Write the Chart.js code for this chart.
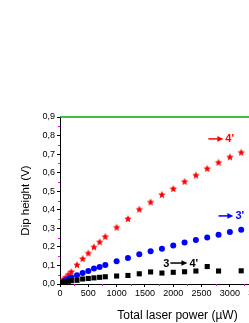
<!DOCTYPE html>
<html><head><meta charset="utf-8">
<script src="https://cdn.jsdelivr.net/npm/chart.js@4"></script>
<style>
html,body{margin:0;padding:0;overflow:hidden;background:#fff;width:249px;height:323px}
#wrap{position:absolute;left:0;top:0;width:320px;height:323px}
</style>
</head><body><div id="wrap"><canvas id="c" width="320" height="323"></canvas></div>
<script>
// ---- data (µW, V) ----
const powerRed   = [25,50,75,100,150,200,300,400,500,600,700,800,1000,1200,1400,1600,1800,2000,2200,2400,2600,2800,3000,3200];
const dipRed     = [0.009,0.017,0.025,0.034,0.050,0.065,0.102,0.135,0.165,0.198,0.225,0.254,0.304,0.350,0.401,0.440,0.480,0.512,0.551,0.585,0.621,0.654,0.683,0.708];
const powerBlue  = [25,50,75,100,150,200,300,400,500,600,700,800,1000,1200,1400,1600,1800,2000,2200,2400,2600,2800,3000,3200];
const dipBlue    = [0.005,0.010,0.014,0.019,0.027,0.035,0.047,0.059,0.070,0.083,0.092,0.102,0.122,0.140,0.160,0.176,0.190,0.207,0.224,0.237,0.250,0.266,0.280,0.293];
const powerBlack = [25,50,75,100,150,200,300,400,500,600,700,800,1000,1200,1400,1600,1800,2000,2200,2400,2600,2800,3200];
const dipBlack   = [0.004,0.007,0.010,0.012,0.015,0.018,0.020,0.027,0.030,0.033,0.036,0.039,0.043,0.046,0.055,0.065,0.059,0.063,0.066,0.070,0.094,0.070,0.071];
const xTicks = [0,500,1000,1500,2000,2500,3000,3500,4000];
const yTicks = [0,0.1,0.2,0.3,0.4,0.5,0.6,0.7,0.8,0.9];
const xLabel = 'Total laser power (µW)';
const yLabel = 'Dip height (V)';
const annotations = [
  {color:'#ff0000', pre:'',  x0:2620, x1:2885, post:"4'", y:0.782},
  {color:'#0000ff', pre:'',  x0:2800, x1:3062, post:"3'", y:0.367},
  {color:'#000000', pre:'3', x0:1949, x1:2250, post:"4'", y:0.113}
];

const FONT = '"Liberation Sans", Arial, sans-serif';

function toPts(xs, ys){ return xs.map((x,i)=>({x:x, y:ys[i]})); }

function makeStar(color, R){
  const s = 10;
  const c = document.createElement('canvas');
  c.width = s; c.height = s;
  const g = c.getContext('2d');
  g.fillStyle = color;
  g.beginPath();
  for (let i=0;i<10;i++){
    const a = -Math.PI/2 + i*Math.PI/5;
    const r = (i%2) ? R*0.45 : R;
    const px = s/2 + r*Math.cos(a), py = s/2 + r*Math.sin(a);
    if (i===0) g.moveTo(px,py); else g.lineTo(px,py);
  }
  g.closePath(); g.fill();
  return c;
}
const star = makeStar('#ff0000', 3.9);

const decor = {
  id:'decor',
  afterDraw(chart){
    const ctx = chart.ctx, a = chart.chartArea;
    const xs = chart.scales.x, ys = chart.scales.y;
    ctx.save();
    // frame top
    ctx.strokeStyle = '#00aa00'; ctx.lineWidth = 1.5;
    ctx.beginPath(); ctx.moveTo(a.left, a.top); ctx.lineTo(a.right, a.top); ctx.stroke();
    // minor ticks
    ctx.strokeStyle = '#ff00ff'; ctx.lineWidth = 1;
    ctx.beginPath();
    for (let i = 0; i < xTicks.length-1; i++){
      const px = Math.round(xs.getPixelForValue((xTicks[i]+xTicks[i+1])/2))+0.5;
      ctx.moveTo(px, a.bottom); ctx.lineTo(px, a.bottom+2);
    }
    for (let i = 0; i < yTicks.length-1; i++){
      const py = Math.round(ys.getPixelForValue((yTicks[i]+yTicks[i+1])/2))+0.5;
      ctx.moveTo(a.left, py); ctx.lineTo(a.left-2, py);
    }
    ctx.stroke();
    // annotations
    ctx.font = 'bold 11px ' + FONT;
    ctx.textBaseline = 'middle';
    annotations.forEach(an=>{
      const y = ys.getPixelForValue(an.y);
      const x0 = xs.getPixelForValue(an.x0), x1 = xs.getPixelForValue(an.x1);
      ctx.fillStyle = an.color; ctx.strokeStyle = an.color;
      if (an.pre){ ctx.textAlign = 'right'; ctx.fillText(an.pre, x0-1, y+0.5); }
      ctx.lineWidth = 1.5;
      ctx.beginPath(); ctx.moveTo(x0, y); ctx.lineTo(x1-4, y); ctx.stroke();
      ctx.beginPath(); ctx.moveTo(x1, y); ctx.lineTo(x1-6, y-2.8); ctx.lineTo(x1-6, y+2.8); ctx.closePath(); ctx.fill();
      ctx.textAlign = 'left'; ctx.fillText(an.post, x1+2, y+0.5);
    });
    ctx.restore();
  }
};

new Chart(document.getElementById('c'), {
  type:'scatter',
  data:{ datasets:[
    {label:'3→4\'', data:toPts(powerBlack, dipBlack), pointStyle:'rect', pointRadius:3.6, pointHoverRadius:3.6, backgroundColor:'#000', borderWidth:0},
    {label:'3\'', data:toPts(powerBlue, dipBlue), pointStyle:'circle', pointRadius:3, pointHoverRadius:3, backgroundColor:'#0000ff', borderWidth:0},
    {label:'4\'', data:toPts(powerRed, dipRed), pointStyle:star, pointRadius:4, backgroundColor:'#ff0000', borderWidth:0}
  ]},
  options:{
    responsive:false, animation:false, devicePixelRatio:1,
    layout:{padding:{top:117, right:25, left:0, bottom:0}},
    plugins:{legend:{display:false}, tooltip:{enabled:false}},
    scales:{
      x:{ type:'linear', min:0, max:4150,
        afterFit(s){ s.height = 39; },
        afterBuildTicks(s){ s.ticks = xTicks.map(v=>({value:v})); },
        grid:{drawOnChartArea:false, drawTicks:true, tickLength:3, color:'#000'},
        border:{display:true, color:'#000', width:1},
        ticks:{color:'#000', padding:1, maxRotation:0, autoSkip:false,
          font:{family:FONT, size:9}, callback:v=> String(v)},
        title:{display:true, text:xLabel, color:'#000', font:{family:FONT, size:12}, padding:{top:4, bottom:0}}
      },
      y:{ type:'linear', min:0, max:0.9,
        afterFit(s){ s.width = 60; },
        afterBuildTicks(s){ s.ticks = yTicks.map(v=>({value:v})); },
        grid:{drawOnChartArea:false, drawTicks:true, tickLength:3, color:'#000'},
        border:{display:true, color:'#000', width:1},
        ticks:{color:'#000', padding:2, autoSkip:false,
          font:{family:FONT, size:9}, callback:v=> v.toFixed(1).replace('.', ',')},
        title:{display:true, text:yLabel, color:'#000', font:{family:FONT, size:11.5}, padding:{top:19, bottom:0}}
      }
    }
  },
  plugins:[decor]
});
</script>
</body></html>
